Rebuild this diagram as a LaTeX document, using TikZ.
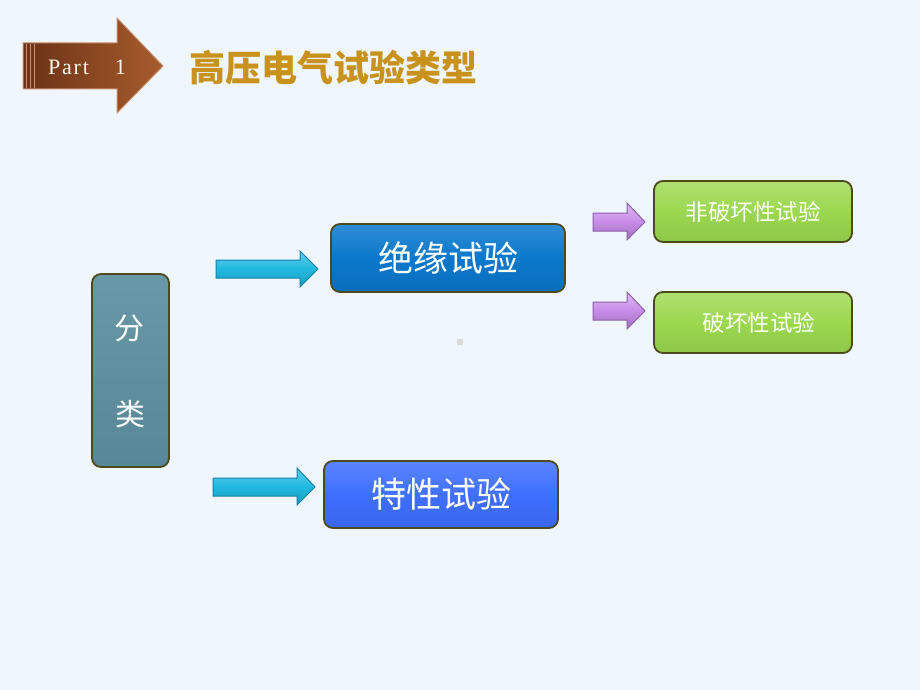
\documentclass[tikz,border=0pt]{standalone}
\usepackage{fontspec}
\newfontfamily\cjk{Noto Sans CJK SC}
\newfontfamily\partfont[LetterSpace=8]{Liberation Serif}
\definecolor{bg}{HTML}{EFF6FD}
\definecolor{edge}{HTML}{4D4A1E}
\definecolor{titlegold}{HTML}{C8921C}
\definecolor{tealbox}{HTML}{5C8FA0}
\definecolor{bluebox}{HTML}{0B78CC}
\definecolor{brightblue}{HTML}{3E6FFF}
\definecolor{greenbox}{HTML}{9BD84F}
\definecolor{cyanarr}{HTML}{20B8E0}
\definecolor{cyanedge}{HTML}{1780A8}
\definecolor{purparr}{HTML}{C88CE8}
\definecolor{purpedge}{HTML}{8E5EAA}
\definecolor{brownL}{HTML}{6A3216}
\definecolor{brownR}{HTML}{A85C2C}
\definecolor{brownedge}{HTML}{C89070}
\tikzset{
  box/.style={draw=edge, line width=1.8pt, rounded corners=9pt, inner sep=0pt,
    text=white, font=\cjk},
  cyanblock/.style={draw=cyanedge, line width=1pt, top color=cyanarr!70!white, bottom color=cyanarr!85!black, middle color=cyanarr},
  purpblock/.style={draw=purpedge, line width=1pt, top color=purparr!60!white, bottom color=purparr!80!black, middle color=purparr},
}
\begin{document}
\begin{tikzpicture}[x=1pt,y=-1pt]
\fill[bg] (0,0) rectangle (920,690);
\useasboundingbox (0,0) rectangle (920,690);

% Part 1 arrow
\draw[brownedge, line width=1pt, left color=brownL, right color=brownR]
  (23,43) -- (117,43) -- (117,18) -- (163,66) -- (117,113) -- (117,89) -- (23,89) -- cycle;
\foreach \xx in {26,30,34} \draw[brownedge, line width=0.8pt] (\xx,44) -- (\xx,88);
\node[anchor=west, text=white!92!brown, font=\partfont\fontsize{22}{24}\selectfont, inner sep=0pt] (part) at (48,67) {Part\hspace{26pt}1};

% title
\node[anchor=west, text=titlegold, font=\cjk\bfseries\fontsize{36}{40}\selectfont, inner sep=0pt] (title) at (189,68) {高压电气试验类型};

% left box
\node[box, top color=tealbox!92!white, bottom color=tealbox!95!black, minimum width=77pt, minimum height=193pt] (cls) at (130.5,370.5) {};
\node[text=white, font=\cjk\fontsize{30}{32}\selectfont, inner sep=0pt] (c1) at (129,328) {分};
\node[text=white, font=\cjk\fontsize{30}{32}\selectfont, inner sep=0pt] (c2) at (130,414) {类};

% main boxes
\node[box, top color=bluebox!85!white, bottom color=bluebox!92!black, middle color=bluebox,
  minimum width=234pt, minimum height=68pt, font=\cjk\fontsize{35}{38}\selectfont] (ins) at (448,258) {绝缘试验};
\node[box, top color=brightblue!85!white, bottom color=brightblue!92!black, middle color=brightblue,
  minimum width=234pt, minimum height=67pt, font=\cjk\fontsize{35}{38}\selectfont] (chr) at (441,494.5) {特性试验};

% green boxes
\node[box, top color=greenbox!80!white, bottom color=greenbox!92!black, middle color=greenbox,
  minimum width=198pt, minimum height=61pt, font=\cjk\fontsize{22.5}{24}\selectfont] (nd) at (753,211.5) {非破坏性试验};
\node[box, top color=greenbox!80!white, bottom color=greenbox!92!black, middle color=greenbox,
  minimum width=198pt, minimum height=61pt, font=\cjk\fontsize{22.5}{24}\selectfont] (dt) at (753,322.5) {\hspace{12pt}破坏性试验};

% cyan block arrows
\draw[cyanblock] (216,260) -- (300,260) -- (300,251) -- (318,269) -- (300,287) -- (300,278) -- (216,278) -- cycle;
\draw[cyanblock] (213,478) -- (297,478) -- (297,468) -- (315,487) -- (297,505) -- (297,496) -- (213,496) -- cycle;

% purple block arrows
\draw[purpblock] (593,213) -- (627,213) -- (627,203) -- (645,222) -- (627,240) -- (627,231) -- (593,231) -- cycle;
\draw[purpblock] (593,302) -- (627,302) -- (627,292) -- (645,311) -- (627,329) -- (627,320) -- (593,320) -- cycle;

% small grey mark
\fill[gray!30] (457,339) rectangle (463,345);
\end{tikzpicture}
\end{document}
